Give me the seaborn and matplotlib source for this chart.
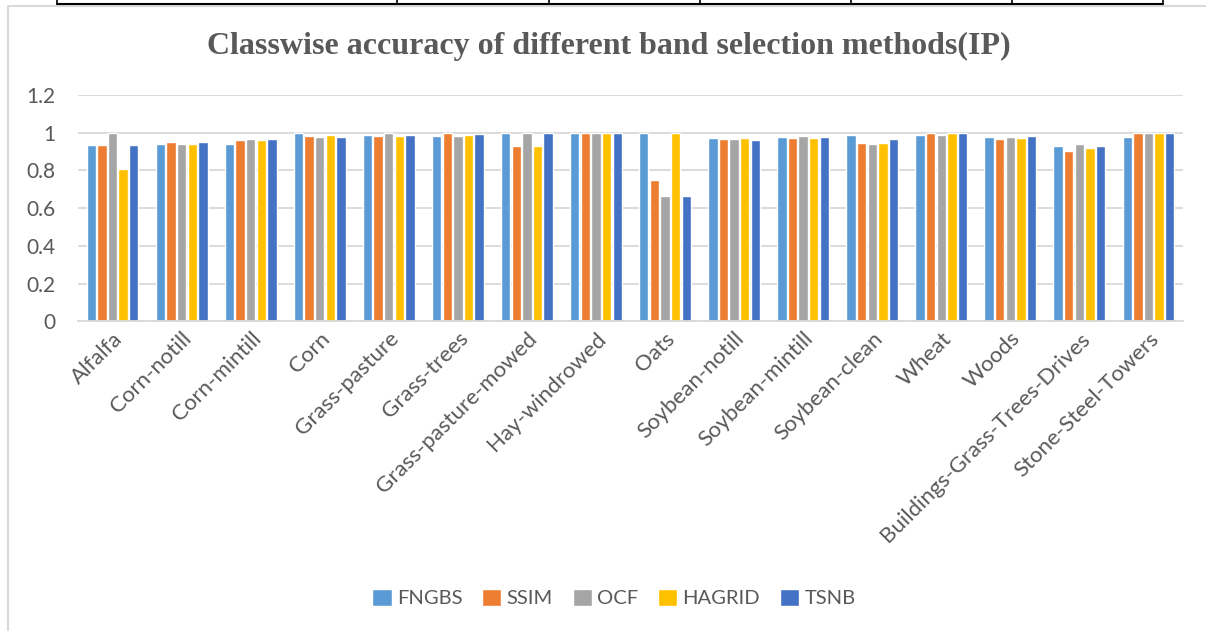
import numpy as np
import pandas as pd
import matplotlib.pyplot as plt
from matplotlib.lines import Line2D
import seaborn as sns

classes = ["Alfalfa", "Corn-notill", "Corn-mintill", "Corn", "Grass-pasture",
           "Grass-trees", "Grass-pasture-mowed", "Hay-windrowed", "Oats",
           "Soybean-notill", "Soybean-mintill", "Soybean-clean", "Wheat",
           "Woods", "Buildings-Grass-Trees-Drives", "Stone-Steel-Towers"]
methods = ["FNGBS", "SSIM", "OCF", "HAGRID", "TSNB"]

fngbs = [0.935, 0.940, 0.938, 1.000, 0.989, 0.984, 1.000, 1.000, 1.000, 0.970, 0.975, 0.988, 0.988, 0.975, 0.929, 0.975]
ssim = [0.935, 0.952, 0.959, 0.982, 0.982, 1.000, 0.928, 1.000, 0.749, 0.966, 0.973, 0.945, 1.000, 0.966, 0.905, 1.000]
ocf = [1.000, 0.938, 0.965, 0.975, 1.000, 0.984, 1.000, 1.000, 0.664, 0.965, 0.982, 0.940, 0.988, 0.975, 0.942, 1.000]
hagrid = [0.809, 0.938, 0.959, 0.989, 0.982, 0.986, 0.928, 1.000, 1.000, 0.970, 0.972, 0.945, 1.000, 0.973, 0.919, 1.000]
tsnb = [0.935, 0.950, 0.966, 0.975, 0.988, 0.995, 1.000, 1.000, 0.664, 0.959, 0.975, 0.966, 1.000, 0.984, 0.929, 1.000]

colors = ["#5B9BD5", "#ED7D31", "#A5A5A5", "#FFC000", "#4472C4"]
text_col = "#595959"

rows = []
for m, vals in zip(methods, [fngbs, ssim, ocf, hagrid, tsnb]):
    for c, v in zip(classes, vals):
        rows.append({"cls": c, "method": m, "acc": v})
df = pd.DataFrame(rows)

sns.set_style("white")
plt.rcParams['font.family'] = ['Lato', 'DejaVu Sans']

W, H = 1206, 631
fig = plt.figure(figsize=(W / 100, H / 100), dpi=100)
ax = fig.add_axes([78 / W, 1 - 321.5 / H, (1183 - 78) / W, (321.5 - 95) / H])

sns.barplot(data=df, x="cls", y="acc", hue="method", order=classes, hue_order=methods,
            palette=colors, width=0.77, gap=0.12, saturation=1, ax=ax, legend=True)

ax.set_ylim(0, 1.2)
ax.set_xlim(-0.5, len(classes) - 0.5)
ax.set_yticks(np.arange(0, 1.21, 0.2))
ax.set_yticklabels(["0", "0.2", "0.4", "0.6", "0.8", "1", "1.2"])
ax.yaxis.grid(True, color="#d9d9d9", linewidth=1.3)
ax.set_axisbelow(True)
for s in ["top", "right", "left"]:
    ax.spines[s].set_visible(False)
ax.spines["bottom"].set_color("#d9d9d9")
ax.spines["bottom"].set_linewidth(1.3)
ax.tick_params(axis="y", length=0, colors=text_col, labelsize=15, pad=16)
ax.tick_params(axis="x", length=0, colors=text_col, labelsize=16, pad=5)
ax.set_xlabel("")
ax.set_ylabel("")
plt.setp(ax.get_xticklabels(), rotation=45, ha="right", rotation_mode="anchor")

ax.legend_.remove()
handles, labels = ax.get_legend_handles_labels()
fig.legend(handles, labels, loc="center", bbox_to_anchor=(614 / W, 1 - 598 / H), ncol=5,
           frameon=False, fontsize=14.5, handlelength=0.95, handleheight=0.95,
           handletextpad=0.25, columnspacing=1.0, labelcolor=text_col)

fig.text(609 / W, 1 - 46 / H, "Classwise accuracy of different band selection methods(IP)",
         ha="center", va="center", fontsize=23, fontweight="bold", color=text_col,
         family=["Liberation Serif", "DejaVu Serif"])

# page decorations: gray chart frame and table edge above it
def px_line(xs, ys, color, lw):
    fig.add_artist(Line2D([x / W for x in xs], [1 - y / H for y in ys],
                          color=color, linewidth=lw, transform=fig.transFigure))

px_line([7.5, 7.5, W], [H, 6, 6], "#d9d9d9", 1.5)
px_line([57, 1163], [3.5, 3.5], "black", 1.5)
for xv in [57, 397, 549, 700, 851, 1012, 1163]:
    px_line([xv, xv], [0, 3.5], "black", 1.2)

fig.savefig("out.png", dpi=100)
